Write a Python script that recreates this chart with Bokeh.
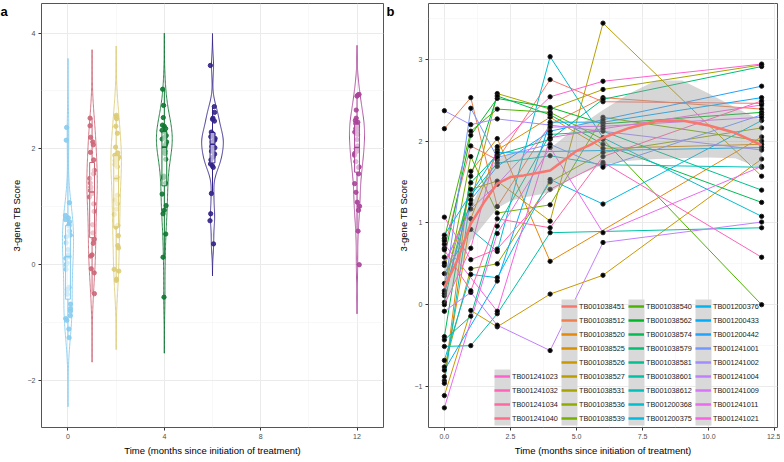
import math
import numpy as np
from bokeh.plotting import figure
from bokeh.layouts import row
from bokeh.models import (ColumnDataSource, FixedTicker, Legend, LegendItem, Label,
                          BoxAnnotation, PrintfTickFormatter)
from bokeh.transform import jitter
from bokeh.embed import file_html
from bokeh.resources import INLINE

FONT = "Liberation Sans"
NA = None

times = [0, 1, 2, 4, 6, 12]
subject_ids = [
    "TB001038451", "TB001038512", "TB001038520", "TB001038525", "TB001038526",
    "TB001038527", "TB001038531", "TB001038536", "TB001038539", "TB001038540",
    "TB001038562", "TB001038574", "TB001038579", "TB001038581", "TB001038601",
    "TB001038612", "TB001200368", "TB001200375", "TB001200376", "TB001200433",
    "TB001200442", "TB001241001", "TB001241002", "TB001241004", "TB001241009",
    "TB001241011", "TB001241021", "TB001241023", "TB001241032", "TB001241034",
    "TB001241040"]

score_m0 = [0.69, 2.15, -0.93, -0.88, -1.11, 0.26, 0.48, -0.76, 0.11, 0.81, 0.58, -0.39, 0.03,
            -0.43, -0.51, -0.96, 0.38, -0.68, 0.85, -0.80, 0.14, 0.17, 2.37, -0.08, 0.51, -1.26,
            0.74, 0.00, 1.07, 0.67, 0.78]
score_m1 = [1.94, 2.53, 1.63, 1.05, -0.07, 1.41, 1.23, 0.44, 1.81, 2.12, 2.07, 1.57, 1.49,
            -0.14, -0.50, 1.34, 0.92, 0.37, NA, NA, 1.28, 2.40, 2.20, 0.15, 1.17, NA,
            NA, 0.69, 0.55, 0.17, NA]
score_m2 = [1.77, 1.20, 2.03, 1.89, -0.27, 1.51, 2.58, 0.50, 1.12, 2.39, 2.52, 2.55, 1.83,
            0.96, -0.11, 1.73, 0.65, 0.33, 1.86, 0.29, 1.69, 1.80, 2.27, -0.25, 1.47, 0.87,
            -0.08, 1.93, 0.68, 1.05, NA]
score_m4 = [2.75, 2.20, 0.53, 2.29, 0.13, 1.02, 2.39, 1.50, 1.22, 2.35, 2.41, 2.32, 2.02,
            2.08, 0.88, 1.82, 3.03, 1.53, NA, 2.23, 2.12, 1.96, NA, -0.56, 2.17, 1.92,
            2.04, 2.54, 1.41, 0.94, NA]
score_m6 = [2.48, 2.53, NA, 1.91, 0.36, 3.44, 2.63, 1.86, 2.29, 2.02, 2.21, 1.96, 2.51,
            2.12, NA, 1.71, 2.04, 1.23, NA, 2.23, 2.26, 1.68, NA, 0.76, 2.18, 0.88,
            2.15, 2.73, 1.74, 1.81, NA]
score_m12 = [2.46, 2.39, 2.05, 1.96, 1.78, 1.57, 2.93, 2.16, 2.00, 0.00, 2.35, 1.25, 2.91,
             1.40, 0.94, 1.68, 1.08, 2.25, 1.92, 2.53, 2.67, 2.32, 1.89, 1.01, 2.29, 1.69,
             2.44, 2.94, 0.58, 2.49, NA]

# loess fit (fit, lower and upper band)
smooth_t = [0, 0.5, 1, 1.5, 2, 2.5, 3, 3.5, 4, 4.5, 5, 5.5, 6, 7, 8, 9, 10, 11, 12]
smooth_fit = [0.21, 0.55, 0.99, 1.25, 1.48, 1.56, 1.58, 1.61, 1.64, 1.76, 1.88, 1.95, 2.04,
              2.16, 2.24, 2.25, 2.19, 2.10, 1.95]
smooth_lo = [0.00, 0.35, 0.78, 0.98, 1.18, 1.27, 1.31, 1.34, 1.37, 1.48, 1.58, 1.64, 1.71,
             1.76, 1.78, 1.79, 1.80, 1.79, 1.66]
smooth_hi = [0.43, 0.75, 1.20, 1.52, 1.78, 1.85, 1.86, 1.88, 1.91, 2.04, 2.18, 2.27, 2.38,
             2.58, 2.74, 2.74, 2.58, 2.41, 2.25]

time_colors = ["#88CCEE", "#CC6677", "#DDCC77", "#117733", "#332288", "#AA4499"]
x_title = "Time (months since initiation of treatment)"
y_title = "3-gene TB Score"

scores_by_time = [score_m0, score_m1, score_m2, score_m4, score_m6, score_m12]


def hcl_hex(h, c=100.0, l=65.0):
    hr = math.radians(h)
    u, v = c * math.cos(hr), c * math.sin(hr)
    Xn, Yn, Zn = 95.047, 100.0, 108.883
    den = Xn + 15 * Yn + 3 * Zn
    un, vn = 4 * Xn / den, 9 * Yn / den
    Y = Yn * ((l + 16) / 116) ** 3
    up, vp = u / (13 * l) + un, v / (13 * l) + vn
    X = Y * 9 * up / (4 * vp)
    Z = Y * (12 - 3 * up - 20 * vp) / (4 * vp)
    X, Y, Z = X / 100, Y / 100, Z / 100
    rgb = [3.2404542 * X - 1.5371385 * Y - 0.4985314 * Z,
           -0.9692660 * X + 1.8760108 * Y + 0.0415560 * Z,
           0.0556434 * X - 0.2040259 * Y + 1.0572252 * Z]
    out = []
    for ch in rgb:
        ch = 12.92 * ch if ch <= 0.0031308 else 1.055 * ch ** (1 / 2.4) - 0.055
        out.append(int(round(min(max(ch, 0), 1) * 255)))
    return "#%02X%02X%02X" % tuple(out)


n_sub = len(subject_ids)
subj_colors = [hcl_hex(15 + 360 * i / n_sub) for i in range(n_sub)]

FIG_H = 458


def style(p, xt, xminor, yt, yminor, xfmt=None):
    p.xaxis.ticker = FixedTicker(ticks=xt, minor_ticks=xminor)
    p.yaxis.ticker = FixedTicker(ticks=yt, minor_ticks=yminor)
    if xfmt:
        p.xaxis.formatter = xfmt
    for ax in (p.xaxis, p.yaxis):
        ax.axis_line_color = None
        ax.major_tick_line_color = "#333333"
        ax.major_tick_out = 3
        ax.major_tick_in = 0
        ax.minor_tick_line_color = None
        ax.major_label_text_font = FONT
        ax.major_label_text_font_size = "7px"
        ax.major_label_text_color = "#4D4D4D"
        ax.major_label_standoff = 2
        ax.axis_label_text_font = FONT
        ax.axis_label_text_font_size = "9.5px"
        ax.axis_label_text_font_style = "normal"
        ax.axis_label_text_color = "#000000"
        ax.axis_label_standoff = 3
    p.xaxis.axis_label = x_title
    p.yaxis.axis_label = y_title
    for g in (p.xgrid, p.ygrid):
        g.grid_line_color = "#EBEBEB"
        g.grid_line_width = 1
        g.minor_grid_line_color = "#F3F3F3"
        g.minor_grid_line_width = 0.6
    p.outline_line_color = "#555555"
    p.outline_line_width = 1
    p.background_fill_color = "white"
    p.border_fill_color = "white"


def panel_tag(p, text, y_top):
    p.add_layout(Label(x=0, y=y_top, x_units="screen", y_units="data", text=text,
                       text_font=FONT, text_font_style="bold", text_font_size="13px",
                       text_baseline="top", text_align="left", text_color="black"), "left")


# ---------------- panel a ----------------
pa = figure(width=386, height=FIG_H, x_range=(-1.1, 13.1), y_range=(-2.81, 4.51),
            output_backend="svg", toolbar_location=None,
            min_border_left=22, min_border_right=3, min_border_top=3, min_border_bottom=28)
style(pa, [0, 4, 8, 12], [2, 6, 10], [-2, 0, 2, 4], [-1, 1, 3])


def nrd0(x):
    x = np.asarray(x)
    sd = np.std(x, ddof=1)
    q75, q25 = np.percentile(x, [75, 25])
    lo = min(sd, (q75 - q25) / 1.34)
    if lo <= 0:
        lo = sd
    return 0.9 * lo * len(x) ** -0.2


dens_list = []
for t, vals in zip(times, scores_by_time):
    v = np.array([a for a in vals if a is not None])
    bw = nrd0(v)
    grid = np.linspace(v.min() - 3 * bw, v.max() + 3 * bw, 256)
    d = np.exp(-0.5 * ((grid[:, None] - v[None, :]) / bw) ** 2).sum(1) / (len(v) * bw * math.sqrt(2 * math.pi))
    dens_list.append((t, v, grid, d))
dmax = max(d.max() for _, _, _, d in dens_list)

for (t, v, grid, d), col in zip(dens_list, time_colors):
    hw = 0.45 * d / dmax
    xs = np.concatenate([t + hw, (t - hw)[::-1]])
    ys = np.concatenate([grid, grid[::-1]])
    pa.patch(xs, ys, fill_color=None, line_color=col, line_width=1, line_alpha=0.9)
    src = ColumnDataSource(dict(t=[t] * len(v), y=v))
    pa.scatter(jitter("t", width=0.22, distribution="uniform"), "y", source=src,
               size=4.3, fill_color=col, line_color=col, fill_alpha=0.9, line_alpha=0.9)
    q1, med, q3 = np.percentile(v, [25, 50, 75])
    iqr = q3 - q1
    up = v[v <= q3 + 1.5 * iqr].max()
    lo = v[v >= q1 - 1.5 * iqr].min()
    pa.segment(x0=[t, t], y0=[q3, q1], x1=[t, t], y1=[up, lo], line_color=col, line_width=1)
    pa.vbar(x=[t], width=0.2, bottom=[q1], top=[q3], fill_color="white", fill_alpha=0.6,
            line_color=col, line_width=1)
    pa.segment(x0=[t - 0.1], y0=[med], x1=[t + 0.1], y1=[med], line_color=col, line_width=1.6)

panel_tag(pa, "a", 4.51)

# ---------------- panel b ----------------
pb = figure(width=394, height=FIG_H, x_range=(-0.6, 12.6), y_range=(-1.5, 3.68),
            output_backend="svg", toolbar_location=None,
            min_border_left=29, min_border_right=3, min_border_top=3, min_border_bottom=28)
style(pb, [0, 2.5, 5, 7.5, 10, 12.5], [1.25, 3.75, 6.25, 8.75, 11.25],
      [-1, 0, 1, 2, 3], [-0.5, 0.5, 1.5, 2.5, 3.5], PrintfTickFormatter(format="%.1f"))

line_renderers = []
key_renderers = []
pts_t, pts_y = [], []
for i, sid in enumerate(subject_ids):
    ts, ys = [], []
    for t, vals in zip(times, scores_by_time):
        if vals[i] is not None:
            ts.append(t)
            ys.append(vals[i])
    pts_t += ts
    pts_y += ys
    r = pb.line(ts, ys, line_color=subj_colors[i], line_width=1)
    line_renderers.append(r)

pb.scatter(pts_t, pts_y, size=4.3, fill_color="black", line_color="#222222")
pb.varea(x=smooth_t, y1=smooth_lo, y2=smooth_hi, fill_color="#999999", fill_alpha=0.4)
pb.line(smooth_t, smooth_fit, line_color="#F8766D", line_width=2.5)

# legend: 4 columns (one with 4 entries, three with 9)
col_groups = [list(range(27, 31)), list(range(0, 9)), list(range(9, 18)), list(range(18, 27))]
col_x = [66, 133, 200, 267]
ROW = 14
for xs0, grp in zip(col_x, col_groups):
    pb.add_layout(BoxAnnotation(left=xs0, right=xs0 + 16, bottom=2, top=2 + ROW * len(grp),
                                left_units="screen", right_units="screen",
                                bottom_units="screen", top_units="screen",
                                fill_color="#D9D9D9", fill_alpha=1, line_color=None,
                                level="glyph"))
nan = float("nan")
for i in range(n_sub):
    key_renderers.append(pb.line([nan, nan], [nan, nan], line_color=subj_colors[i], line_width=2.5))
for xs0, grp in zip(col_x, col_groups):
    items = [LegendItem(label=subject_ids[i], renderers=[key_renderers[i]]) for i in grp]
    lg = Legend(items=items, location=(xs0, 2), orientation="vertical",
                glyph_width=16, glyph_height=ROW, label_height=ROW, label_width=10,
                label_standoff=2, spacing=0, padding=0, margin=0,
                label_text_font=FONT, label_text_font_size="7.3px",
                label_text_color="#1A1A1A", border_line_color=None,
                background_fill_alpha=0, level="overlay")
    pb.add_layout(lg)

panel_tag(pb, "b", 3.68)

layout = row(pa, pb)
open("out.html", "w").write(file_html(layout, INLINE))
